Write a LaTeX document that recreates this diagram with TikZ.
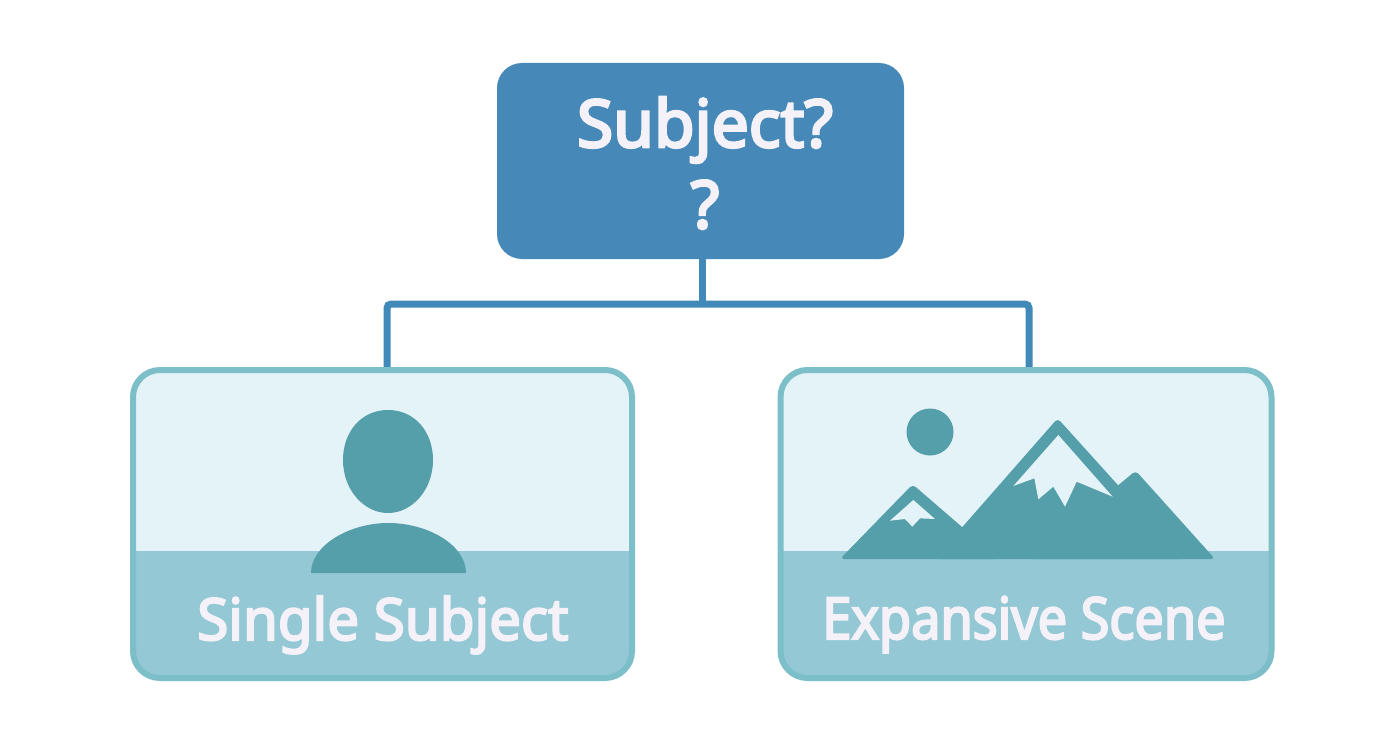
\documentclass[tikz,border=0pt]{standalone}
\usepackage{fontspec}
\setmainfont{Noto Sans}
\newfontfamily\topfont{Noto Sans}[FakeBold=4]
\newfontfamily\singlefont{Noto Sans}[FakeBold=3.5,FakeStretch=0.975]
\newfontfamily\scenefont{Noto Sans}[FakeBold=3.5,FakeStretch=0.9]
\definecolor{topblue}{HTML}{4689B8}
\definecolor{linkblue}{HTML}{4089B8}
\definecolor{edge}{HTML}{7CBFC8}
\definecolor{pale}{HTML}{E4F3F8}
\definecolor{band}{HTML}{93C8D4}
\definecolor{icon}{HTML}{559FAA}
\definecolor{label}{HTML}{F4F2F8}
\tikzset{
  topbox/.style={rectangle,rounded corners=25pt,fill=topblue,minimum width=407pt,minimum height=196pt,outer sep=0pt,inner sep=0pt},
  cardbox/.style={rectangle,rounded corners=27pt,draw=edge,line width=6pt,fill=pale,minimum height=308pt,outer sep=0pt,inner sep=0pt,
    path picture={\fill[band,sharp corners] ([yshift=-181pt]path picture bounding box.north west) rectangle (path picture bounding box.south east);}},
  conn/.style={draw=linkblue,line width=7pt,rounded corners=4pt},
  iconfill/.style={fill=icon},
  peak/.style={fill=icon,rounded corners=4pt},
  snow/.style={fill=pale},
  cardlabel/.style={text=label,inner sep=0pt,anchor=base},
  toplabel/.style={text=label,font=\fontsize{66}{81}\selectfont\topfont,align=center,inner sep=0pt}
}
\begin{document}
\begin{tikzpicture}[x=1pt,y=-1pt]
\path[use as bounding box,fill=white] (0,0) rectangle (1392,752);
\node[topbox] (top) at (700.5,161) {};
\coordinate (bus) at (702,304);
\coordinate (dropL) at (387,372);
\coordinate (dropR) at (1029,372);
\draw[conn] (dropL) |- (bus) -| (dropR);
\draw[conn] (top.south -| bus) -- (bus);
\node[cardbox,minimum width=499pt] (single) at (382.5,524) {};
\node[cardbox,minimum width=491pt] (scene) at (1026,524) {};
% top label
\node[toplabel] (qlabel) at (705,163) {Subject?\\?};
% person icon
\path[iconfill] (388,410) .. controls (415,410) and (433,432) .. (433,460)
  .. controls (433,490) and (412,513) .. (388,513)
  .. controls (364,513) and (343,490) .. (343,460)
  .. controls (343,432) and (361,410) .. (388,410) -- cycle;
\path[iconfill] (311,573) .. controls (311,545) and (350,523) .. (388,523)
  .. controls (428,523) and (466,545) .. (466,573) -- cycle;
\node[cardlabel,font=\fontsize{58}{60}\selectfont\singlefont] (singlelabel) at (383,640) {Single Subject};
% scene icon
\path[iconfill] (930,432) circle[radius=23.5];
\begin{scope}[xshift=780pt,yshift=-370pt,x=1pt/3,y=-1pt/3]
\path[peak] (180,567) -- (398,343) -- (657,567) -- cycle;
\path[peak] (750,567) -- (1067,302) -- (1305,567) -- cycle;
\path[peak] (463,567) -- (833,145) -- (1214,567) -- cycle;
\path[snow] (835,195) -- (998,380) -- (890,335) -- (855,410) -- (820,350) -- (775,388) -- (763,325) -- (700,348) -- cycle;
\path[snow] (400,390) -- (465,447) -- (420,445) -- (397,470) -- (375,447) -- (330,452) -- cycle;
\end{scope}
\node[cardlabel,font=\fontsize{58}{60}\selectfont\scenefont] (scenelabel) at (1024,639) {Expansive Scene};
\end{tikzpicture}
\end{document}
